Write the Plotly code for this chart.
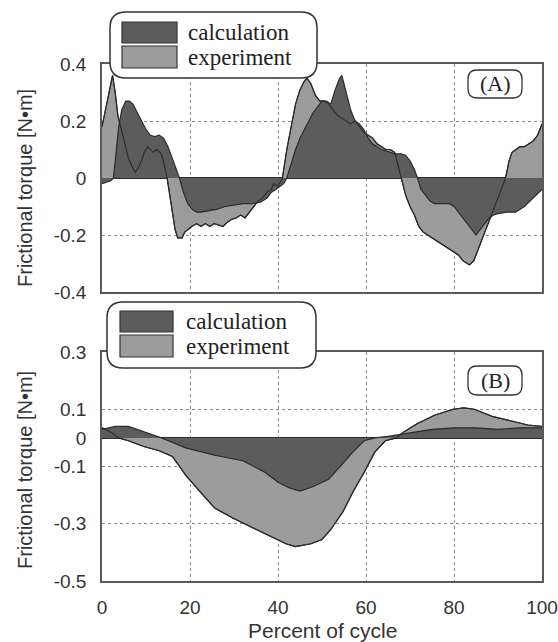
import plotly.graph_objects as go

# ---- Panel A: frictional torque over the cycle ----
a_exp_pct = [0, 1, 2, 2.4, 3, 3.6, 4.4, 5.2, 6, 6.8, 7.6, 8.4, 9, 9.6, 10.4, 11, 11.6, 12.4,
             13.2, 13.8, 14.4, 14.8, 15.4, 16, 16.6, 17.2, 18.2, 18.8, 19.6, 20.4, 21.5, 22.5,
             23.5, 24.5, 25.5, 26.5, 27.5, 28.5, 29.5, 30.5, 31.5, 32.5, 33.5, 34.5, 35.5,
             36.5, 37.5, 38.5, 39, 40, 41, 42, 43, 44, 45, 46, 46.6, 47.5, 48.5, 49.5, 50.5,
             51.5, 52.5, 53.5, 54.5, 55.5, 56.5, 57.5, 58.5, 59.5, 60.5, 61.5, 62.5, 63.5,
             64.5, 65.5, 66.5, 67.2, 68, 69, 70, 71, 72, 73, 74, 75, 76, 77, 78, 79, 80, 81,
             82, 83, 83.5, 84.5, 85.5, 86.5, 87.5, 88.5, 89.5, 90.5, 91.5, 92, 92.5, 93.2, 94,
             95, 96, 97, 98, 99, 100]
a_exp_val = [0.18, 0.26, 0.34, 0.36, 0.30, 0.22, 0.17, 0.12, 0.07, 0.04, 0.02, 0.04, 0.06,
             0.09, 0.11, 0.10, 0.09, 0.10, 0.09, 0.07, 0.03, 0.0, -0.06, -0.12, -0.18, -0.21,
             -0.21, -0.19, -0.18, -0.17, -0.16, -0.17, -0.16, -0.17, -0.16, -0.165, -0.17,
             -0.155, -0.145, -0.14, -0.13, -0.14, -0.12, -0.10, -0.08, -0.07, -0.05, -0.04,
             -0.02, -0.03, 0.0, 0.10, 0.18, 0.26, 0.31, 0.34, 0.35, 0.33, 0.29, 0.27, 0.27,
             0.26, 0.24, 0.22, 0.21, 0.20, 0.19, 0.20, 0.18, 0.16, 0.15, 0.14, 0.12, 0.11,
             0.10, 0.10, 0.09, 0.05, 0.0, -0.06, -0.10, -0.13, -0.17, -0.19, -0.20, -0.21,
             -0.22, -0.23, -0.24, -0.25, -0.26, -0.27, -0.29, -0.30, -0.305, -0.29, -0.25,
             -0.21, -0.17, -0.13, -0.09, -0.05, -0.01, 0.02, 0.06, 0.09, 0.10, 0.11, 0.11,
             0.12, 0.13, 0.15, 0.19]

a_calc_pct = [0, 1, 2, 2.6, 3.2, 3.8, 4.5, 5.4, 6.2, 7, 8, 9, 10, 11, 12, 13, 14, 15, 16, 17,
              17.6, 18.5, 19.5, 20.5, 21.5, 22.5, 24, 26, 28, 30, 32, 34, 36, 37.5, 38.5,
              39.5, 40.5, 41.3, 42, 43, 44, 45, 46, 47, 48, 49, 50, 51, 52, 53, 54, 54.5,
              55.5, 56.5, 57.5, 58.5, 59.5, 60.5, 61.5, 62.5, 63.5, 64.5, 65.5, 66.5, 68, 69,
              70, 71, 71.7, 72.5, 73.5, 74.5, 75.5, 77, 79, 80, 81, 82, 83, 84, 85, 86, 87,
              88, 89, 90, 92, 94, 96, 98, 100]
a_calc_val = [-0.02, -0.015, -0.01, 0.0, 0.10, 0.18, 0.24, 0.27, 0.27, 0.26, 0.23, 0.20,
              0.17, 0.15, 0.145, 0.15, 0.14, 0.11, 0.07, 0.03, 0.0, -0.05, -0.09, -0.11,
              -0.12, -0.12, -0.115, -0.11, -0.10, -0.095, -0.09, -0.09, -0.085, -0.07, -0.05,
              -0.04, -0.03, -0.02, 0.0, 0.05, 0.10, 0.14, 0.17, 0.20, 0.23, 0.25, 0.27, 0.27,
              0.26, 0.31, 0.35, 0.36, 0.30, 0.24, 0.20, 0.19, 0.17, 0.14, 0.12, 0.11, 0.10,
              0.095, 0.09, 0.085, 0.085, 0.08, 0.06, 0.03, 0.0, -0.04, -0.06, -0.08, -0.09,
              -0.09, -0.09, -0.10, -0.12, -0.14, -0.16, -0.18, -0.20, -0.18, -0.16, -0.14,
              -0.13, -0.125, -0.12, -0.12, -0.10, -0.07, -0.04]

# ---- Panel B ----
b_exp_pct = [0, 2, 3.8, 6, 9.5, 13, 16, 19, 22.4, 25.6, 29.7, 33.7, 37.8, 41.8, 44, 47.5, 50,
             52, 54.7, 57, 59.6, 62, 64.4, 66.9, 68.5, 71.7, 75.7, 79.8, 82.2, 84.6, 88.7,
             92.7, 96.8, 100]
b_exp_val = [0.035, 0.02, 0.0, -0.01, -0.03, -0.045, -0.065, -0.13, -0.19, -0.245, -0.28,
             -0.31, -0.34, -0.37, -0.38, -0.37, -0.355, -0.32, -0.26, -0.19, -0.12, -0.05,
             -0.01, 0.0, 0.02, 0.05, 0.08, 0.10, 0.105, 0.10, 0.075, 0.06, 0.045, 0.04]

b_calc_pct = [0, 3, 6, 8, 10, 12, 13.5, 16.7, 19, 25.6, 32, 37, 40, 42.6, 45, 48, 51.5, 54.7,
              57, 59.6, 62, 65, 67, 70, 72, 75, 80, 85, 90, 95, 100]
b_calc_val = [0.03, 0.04, 0.04, 0.03, 0.02, 0.01, 0.0, -0.02, -0.035, -0.06, -0.08, -0.12,
              -0.155, -0.175, -0.186, -0.17, -0.145, -0.09, -0.05, -0.01, 0.0, 0.005, 0.01,
              0.02, 0.025, 0.03, 0.035, 0.035, 0.03, 0.035, 0.035]

x_ticks = [0, 20, 40, 60, 80, 100]
a_y_ticks = [-0.4, -0.2, 0, 0.2, 0.4]
a_y_labels = ["-0.4", "-0.2", "0", "0.2", "0.4"]
b_y_ticks = [-0.5, -0.3, -0.1, 0, 0.1, 0.3]
b_y_labels = ["-0.5", "-0.3", "-0.1", "0", "0.1", "0.3"]

legend_names = ["calculation", "experiment"]

DARK = "#5c5c5c"
LIGHT = "#9c9c9c"
EDGE = "#2b2b2b"
FRAME = "#5a5a5a"
GRID = "#8a8a8a"

W, H = 558, 642
ML, MR, MT, MB = 102, 16, 64, 61
PW, PH = W - ML - MR, H - MT - MB


def px(x):
    return (x - ML) / PW


def py(y):
    return (H - MB - y) / PH


fig = go.Figure()


def add_panel(xa, ya, exp_x, exp_y, calc_x, calc_y):
    fig.add_trace(go.Scatter(x=exp_x, y=exp_y, mode="lines", fill="tozeroy",
                             fillcolor=LIGHT, line=dict(color=EDGE, width=1.2),
                             xaxis=xa, yaxis=ya, showlegend=False, hoverinfo="skip"))
    fig.add_trace(go.Scatter(x=calc_x, y=calc_y, mode="lines", fill="tozeroy",
                             fillcolor=DARK, line=dict(color=EDGE, width=1.2),
                             xaxis=xa, yaxis=ya, showlegend=False, hoverinfo="skip"))
    fig.add_trace(go.Scatter(x=exp_x, y=exp_y, mode="lines",
                             line=dict(color=EDGE, width=1.1),
                             xaxis=xa, yaxis=ya, showlegend=False, hoverinfo="skip"))


add_panel("x", "y", a_exp_pct, a_exp_val, a_calc_pct, a_calc_val)
add_panel("x2", "y2", b_exp_pct, b_exp_val, b_calc_pct, b_calc_val)

tick_font = dict(family="Liberation Sans, Arial, sans-serif", size=19, color="#333")
common_x = dict(range=[0, 100], tickvals=x_ticks, showgrid=True, gridcolor=GRID,
                griddash="dot", gridwidth=1, showline=True, linecolor=FRAME, linewidth=1.5,
                mirror=True, zeroline=False, ticks="outside", ticklen=8,
                tickcolor="rgba(0,0,0,0)", tickfont=tick_font, automargin=False)
common_y = dict(showgrid=True, gridcolor=GRID, griddash="dot", gridwidth=1, showline=True,
                linecolor=FRAME, linewidth=1.5, mirror=True, zeroline=True,
                zerolinecolor=EDGE, zerolinewidth=1.5, ticks="outside", ticklen=10,
                tickcolor="rgba(0,0,0,0)", tickfont=tick_font, automargin=False)

a_bottom = py(292)
b_top = py(352)

fig.update_layout(
    width=W, height=H,
    margin=dict(l=ML, r=MR, t=MT, b=MB, autoexpand=False),
    paper_bgcolor="white", plot_bgcolor="white",
    xaxis=dict(common_x, domain=[0, 1], anchor="y", showticklabels=False),
    yaxis=dict(common_y, domain=[a_bottom, 1], anchor="x", range=[-0.4, 0.4],
               tickvals=a_y_ticks, ticktext=a_y_labels),
    xaxis2=dict(common_x, domain=[0, 1], anchor="y2"),
    yaxis2=dict(common_y, domain=[0, b_top], anchor="x2", range=[-0.5, 0.3],
                tickvals=b_y_ticks, ticktext=b_y_labels),
)


def rounded_box(x0, y0, x1, y1, r):
    """Rounded rectangle path in paper coordinates from pixel corners."""
    pts = [
        f"M {px(x0 + r)},{py(y0)}",
        f"L {px(x1 - r)},{py(y0)}",
        f"Q {px(x1)},{py(y0)} {px(x1)},{py(y0 + r)}",
        f"L {px(x1)},{py(y1 - r)}",
        f"Q {px(x1)},{py(y1)} {px(x1 - r)},{py(y1)}",
        f"L {px(x0 + r)},{py(y1)}",
        f"Q {px(x0)},{py(y1)} {px(x0)},{py(y1 - r)}",
        f"L {px(x0)},{py(y0 + r)}",
        f"Q {px(x0)},{py(y0)} {px(x0 + r)},{py(y0)}",
        "Z",
    ]
    return " ".join(pts)


serif = "Liberation Serif, Times New Roman, serif"
shapes = []
annotations = []


def legend_block(box, sw_x0, sw_x1, dark_y, light_y, text_x):
    shapes.append(dict(type="path", path=rounded_box(*box, 16), xref="paper", yref="paper",
                       fillcolor="white", line=dict(color="#333", width=1.5), layer="above"))
    for (y0, y1), col, name in zip([dark_y, light_y], [DARK, LIGHT], legend_names):
        shapes.append(dict(type="rect", xref="paper", yref="paper",
                           x0=px(sw_x0), x1=px(sw_x1), y0=py(y1), y1=py(y0),
                           fillcolor=col, line=dict(color="#333", width=1.2), layer="above"))
        annotations.append(dict(x=px(text_x), y=py((y0 + y1) / 2), xref="paper",
                                yref="paper", text=name, showarrow=False, xanchor="left",
                                yanchor="middle",
                                font=dict(family=serif, size=23, color="#222")))


def panel_tag(box, label):
    shapes.append(dict(type="path", path=rounded_box(*box, 9), xref="paper", yref="paper",
                       fillcolor="white", line=dict(color="#333", width=1.3), layer="above"))
    annotations.append(dict(x=px((box[0] + box[2]) / 2), y=py((box[1] + box[3]) / 2),
                            xref="paper", yref="paper", text=label, showarrow=False,
                            xanchor="center", yanchor="middle",
                            font=dict(family=serif, size=22, color="#222")))


legend_block((110, 12, 317, 78), 122, 177, (22, 43), (46, 68), 186)
legend_block((107, 302, 316, 368), 120, 173, (311, 332), (335, 357), 184)
panel_tag((468, 70, 522, 98), "(A)")
panel_tag((468, 366, 522, 395), "(B)")

title_font = dict(family="Liberation Sans, Arial, sans-serif", size=20, color="#333")
for yc in (188, 470):
    annotations.append(dict(x=px(25), y=py(yc), xref="paper", yref="paper",
                            text="Frictional torque [N•m]", textangle=-90, showarrow=False,
                            xanchor="center", yanchor="middle", font=title_font))
annotations.append(dict(x=0.5, y=py(630), xref="paper", yref="paper",
                        text="Percent of cycle", showarrow=False, xanchor="center",
                        yanchor="middle", font=dict(title_font, size=21)))

fig.update_layout(shapes=shapes, annotations=annotations)

fig.write_html("out.html")
